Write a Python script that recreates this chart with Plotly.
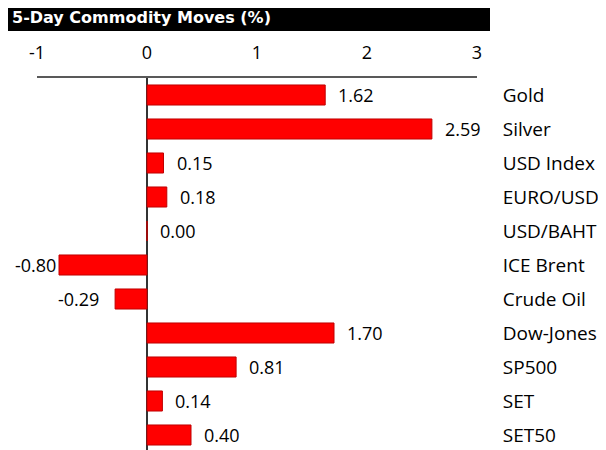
import plotly.graph_objects as go

categories = ["Gold", "Silver", "USD Index", "EURO/USD", "USD/BAHT", "ICE Brent",
              "Crude Oil", "Dow-Jones", "SP500", "SET", "SET50"]
values = [1.62, 2.59, 0.15, 0.18, 0.00, -0.80, -0.29, 1.70, 0.81, 0.14, 0.40]
x_ticks = [-1, 0, 1, 2, 3]
title_text = "5-Day Commodity Moves (%)"

# page has an 8px body margin; figure coordinates are page coordinates minus 8
W, H = 598, 442
L, R, T, B = 29, 129, 70, 0
plot_w = W - L - R
plot_h = H - T - B
xmin, xmax = -1, 3
ppu = plot_w / (xmax - xmin)

def px_x(v):
    return L + (v - xmin) * ppu

FONT = "Open Sans"
fig = go.Figure()
fig.add_trace(go.Bar(
    x=values, y=categories, orientation="h",
    marker=dict(color="#FF0000", line=dict(color="#C00000", width=1)),
    width=0.59, hoverinfo="skip",
))

annotations = []
for c, v in zip(categories, values):
    label = f"{v:.2f}"
    if v >= 0:
        annotations.append(dict(x=v, y=c, xref="x", yref="y", text=label, showarrow=False,
                                xanchor="left", yanchor="middle", xshift=11,
                                font=dict(family=FONT, size=18, color="black")))
    else:
        left = px_x(v)
        tw = 48
        shift = -max(0, min(14, left - 2 - tw))
        annotations.append(dict(x=v, y=c, xref="x", yref="y", text=label, showarrow=False,
                                xanchor="right", yanchor="middle", xshift=shift,
                                font=dict(family=FONT, size=18, color="black")))

def pxx(p):
    return (p - L) / plot_w

def pxy(p):
    return (H - B - p) / plot_h

annotations.append(dict(x=pxx(2), y=pxy(10), xref="paper", yref="paper", text=title_text,
                        showarrow=False, xanchor="left", yanchor="middle",
                        font=dict(family="DejaVu Sans", size=16, color="white", weight="bold")))

fig.update_layout(
    width=W, height=H,
    margin=dict(l=L, r=R, t=T, b=B, pad=0),
    paper_bgcolor="white", plot_bgcolor="white",
    showlegend=False,
    shapes=[dict(type="rect", xref="paper", yref="paper",
                 x0=pxx(0), x1=pxx(482), y0=pxy(23), y1=pxy(0),
                 fillcolor="black", line=dict(width=0), layer="above")],
    annotations=annotations,
    xaxis=dict(side="top", range=[xmin, xmax], tickvals=x_ticks,
               ticktext=[str(t) for t in x_ticks],
               showline=True, linecolor="#595959", linewidth=2,
               showgrid=False, zeroline=True, zerolinecolor="#333333", zerolinewidth=2,
               ticks="outside", ticklen=10, tickcolor="rgba(0,0,0,0)",
               tickfont=dict(family=FONT, size=18, color="black")),
    yaxis=dict(side="right", autorange=False,
               range=[-0.5 + plot_h / 34, -0.5],
               categoryorder="array", categoryarray=categories,
               showline=False, showgrid=False, zeroline=False,
               ticks="outside", ticklen=21, tickcolor="rgba(0,0,0,0)",
               tickfont=dict(family=FONT, size=19, color="black")),
)

fig.write_html("out.html")
